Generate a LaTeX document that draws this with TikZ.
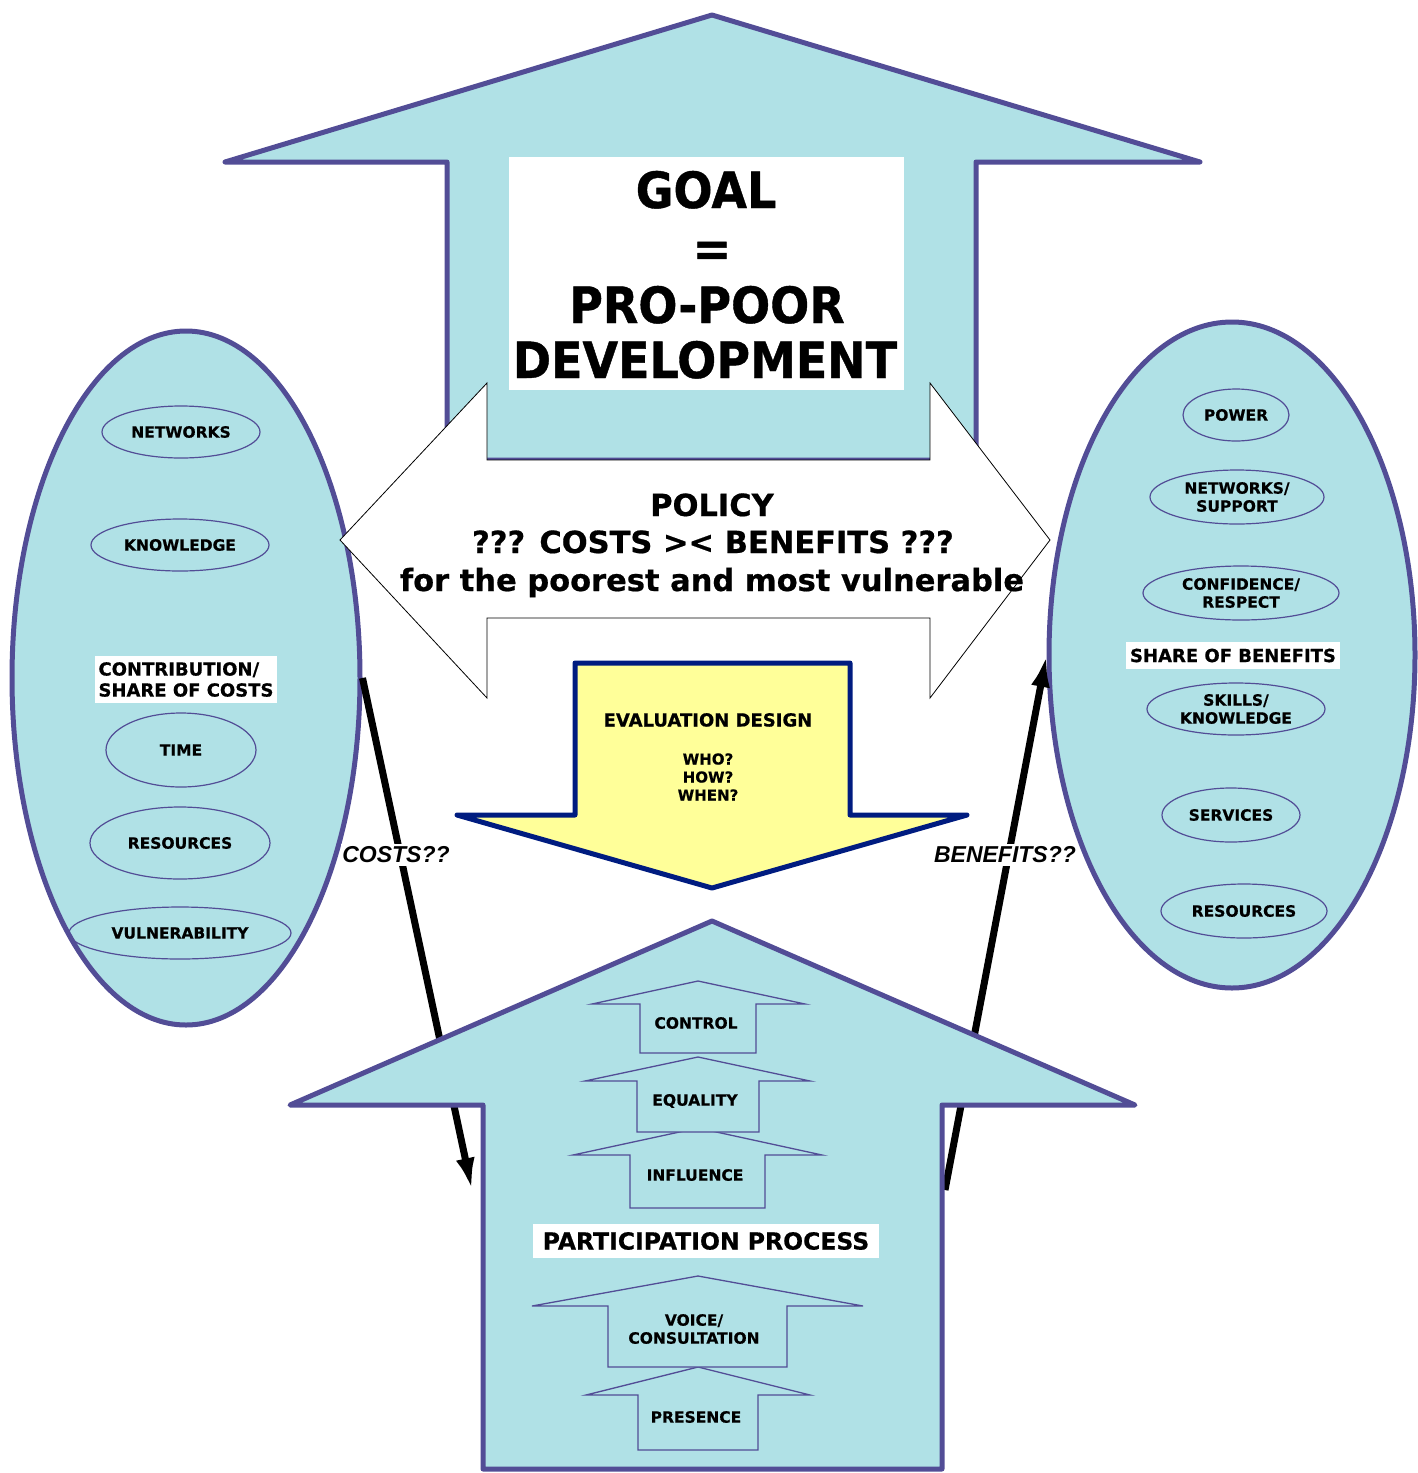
\documentclass[tikz,border=0pt]{standalone}
\usepackage{fontspec}
\setmainfont{DejaVu Sans}[BoldFeatures={FakeBold=0.6}]
\newfontfamily\goalfont{DejaVu Sans}[FakeStretch=0.92,BoldFeatures={FakeBold=0.8}]
\newfontfamily\arialfont{Liberation Sans}
\usetikzlibrary{shapes.geometric,arrows.meta}
\definecolor{lblue}{RGB}{176,225,230}
\definecolor{pbord}{RGB}{82,77,150}
\definecolor{navyb}{RGB}{0,28,128}
\definecolor{yell}{RGB}{255,255,153}
\begin{document}
\begin{tikzpicture}[x=1pt,y=-1pt,
  bigshape/.style={fill=lblue,draw=pbord,line width=5pt,line join=round},
  smallarrow/.style={fill=lblue,draw=pbord,line width=1.3pt,line join=miter},
  bigell/.style={ellipse,fill=lblue,draw=pbord,line width=5pt,inner sep=0},
  smallell/.style={ellipse,draw=pbord,line width=1.2pt,inner sep=0,align=center,font=\bfseries\fontsize{15.5}{18}\selectfont},
  lbl/.style={font=\bfseries\fontsize{15.5}{18}\selectfont,align=center,inner sep=0},
  whitelbl/.style={fill=white,inner sep=0,font=\bfseries\fontsize{18}{21}\selectfont},
  goaltxt/.style={font=\goalfont\bfseries\fontsize{50}{57}\selectfont,inner sep=0,anchor=base},
  policytxt/.style={font=\bfseries\fontsize{30.5}{36}\selectfont,inner sep=0,anchor=base},
  evaltxt/.style={font=\bfseries\fontsize{18}{21}\selectfont,inner sep=0,anchor=base},
  qtxt/.style={font=\bfseries\fontsize{15}{18}\selectfont,inner sep=0,anchor=base},
  italtxt/.style={font=\arialfont\bfseries\itshape\fontsize{23}{27}\selectfont,fill=white,inner xsep=1pt,inner ysep=3pt},
  conn/.style={line width=7pt,-{Latex[length=32pt,width=19pt]}}
]
\useasboundingbox (0,0) rectangle (1417,1473);

% side ellipses
\node[bigell,minimum width=348,minimum height=694] (left) at (186,678) {};
\node[bigell,minimum width=366,minimum height=666] (right) at (1232,655) {};

% left inner ellipses
\node[smallell,minimum width=158,minimum height=52] (lnet) at (181,432) {NETWORKS};
\node[smallell,minimum width=178,minimum height=52] (lknow) at (180,545) {KNOWLEDGE};
\node[whitelbl,minimum width=182,minimum height=47,align=left] (lcontr) at (186,679.5) {CONTRIBUTION/\\SHARE OF COSTS};
\node[smallell,minimum width=150,minimum height=74] (ltime) at (181,750) {TIME};
\node[smallell,minimum width=180,minimum height=72] (lres) at (180,843) {RESOURCES};
\node[smallell,minimum width=222,minimum height=52] (lvul) at (180,933) {VULNERABILITY};

% right inner ellipses
\node[smallell,minimum width=106,minimum height=52] (rpow) at (1236,415) {POWER};
\node[smallell,minimum width=174,minimum height=54] (rnet) at (1237,497) {NETWORKS/\\SUPPORT};
\node[smallell,minimum width=196,minimum height=54] (rconf) at (1241,593) {CONFIDENCE/\\RESPECT};
\node[whitelbl,minimum width=214,minimum height=27] (rshare) at (1233,655.5) {SHARE OF BENEFITS};
\node[smallell,minimum width=178,minimum height=52] (rskill) at (1236,709) {SKILLS/\\KNOWLEDGE};
\node[smallell,minimum width=138,minimum height=54] (rserv) at (1231,815) {SERVICES};
\node[smallell,minimum width=166,minimum height=54] (rres) at (1244,911) {RESOURCES};

% connectors (behind participation arrow)
\coordinate (costend) at (472,1190);
\coordinate (benstart) at (945,1190);
\draw[conn] (left.east) -- (costend);
\draw[conn] (benstart) -- (right.west);
\node[italtxt] (costlbl) at (396,855) {COSTS??};
\node[italtxt] (benlbl) at (1005,855) {BENEFITS??};

% top goal arrow
\path[bigshape] (712,15) -- (1200,162) -- (976,162) -- (976,460) -- (447,460) -- (447,162) -- (225,162) -- cycle;

% policy double arrow
\path[fill=white,draw=black,line width=0.8pt] (340,540) -- (487,383) -- (487,460) -- (930,460) -- (930,383) -- (1050,540) -- (930,698) -- (930,618) -- (487,618) -- (487,698) -- cycle;
\node[policytxt] (p1) at (712,516) {POLICY};
\node[policytxt] (p2) at (713,553) {??? COSTS >< BENEFITS ???};
\node[policytxt] (p3) at (712,591) {for the poorest and most vulnerable};

% goal box
\node[fill=white,minimum width=395,minimum height=233,inner sep=0] (goalbox) at (706.5,273.5) {};
\node[goaltxt] (g1) at (706,208) {GOAL};
\node[goaltxt] (g2) at (712,266) {=};
\node[goaltxt] (g3) at (707,323) {PRO-POOR};
\node[goaltxt] (g4) at (705,378) {DEVELOPMENT};

% evaluation arrow
\path[fill=yell,draw=navyb,line width=5pt,line join=round] (575,663) -- (850,663) -- (850,815) -- (967,815) -- (712,888) -- (457,815) -- (575,815) -- cycle;
\node[evaltxt] (ev) at (708,726.5) {EVALUATION DESIGN};
\node[qtxt] (who) at (708,764.5) {WHO?};
\node[qtxt] (how) at (708,782.5) {HOW?};
\node[qtxt] (when) at (708,800.5) {WHEN?};

% participation arrow
\path[bigshape] (712,921) -- (1135,1105) -- (942,1105) -- (942,1469) -- (483,1469) -- (483,1105) -- (290,1105) -- cycle;

% inner arrows
\path[smallarrow] (698,1128) -- (822,1155) -- (765,1155) -- (765,1208) -- (630,1208) -- (630,1155) -- (573,1155) -- cycle;
\path[smallarrow] (698,1057) -- (810,1081) -- (759,1081) -- (759,1132) -- (637,1132) -- (637,1081) -- (585,1081) -- cycle;
\path[smallarrow] (698,981) -- (805,1004) -- (756,1004) -- (756,1053) -- (640,1053) -- (640,1004) -- (592,1004) -- cycle;
\path[smallarrow] (698,1367) -- (810,1395) -- (758,1395) -- (758,1450) -- (638,1450) -- (638,1395) -- (586,1395) -- cycle;
\path[smallarrow] (698,1276) -- (863,1306) -- (787,1306) -- (787,1367) -- (608,1367) -- (608,1306) -- (532,1306) -- cycle;

\node[lbl] (ctrl) at (696,1023) {CONTROL};
\node[lbl] (equal) at (695,1101) {EQUALITY};
\node[lbl] (infl) at (695,1175) {INFLUENCE};
\node[fill=white,minimum width=346,minimum height=34,inner sep=0,font=\bfseries\fontsize{23.5}{28}\selectfont] (part) at (706,1241) {PARTICIPATION PROCESS};
\node[lbl] (voice) at (694,1329) {VOICE/\\CONSULTATION};
\node[lbl] (pres) at (696,1417) {PRESENCE};
\end{tikzpicture}
\end{document}
